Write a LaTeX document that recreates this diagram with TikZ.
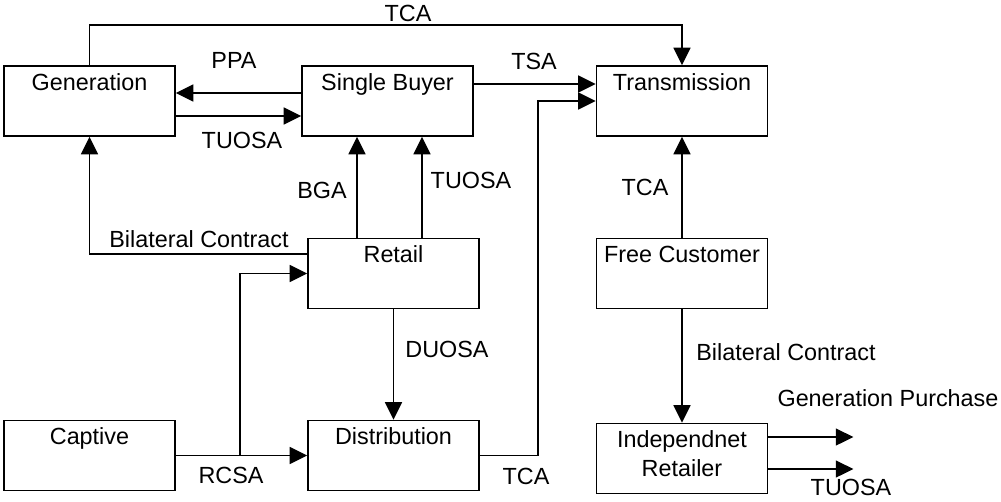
\documentclass[tikz,border=0pt]{standalone}
\usepackage{fontspec}
\setmainfont{Liberation Sans}
\usetikzlibrary{positioning,arrows.meta}
\tikzset{
block/.style={
draw,
line width=0.95pt,
minimum width=3.42cm,
minimum height=1.4cm,
inner sep=0pt
},
boxtitle/.style={
anchor=north,
inner sep=0pt,
yshift=-1.6mm,
align=center
},
tag/.style={
inner sep=0pt,
text height=1.38ex,
text depth=0pt
},
arrow/.style={
-{Triangle[length=3.5mm,width=3.4mm]},
line width=0.8pt
}
}

\begin{document}
\begin{tikzpicture}[x=0.2mm,y=-0.2mm,font=\fontsize{13.3}{16.5}\selectfont]

\useasboundingbox (0,0) rectangle (1001,501);

\node[block,label={[boxtitle]north:Generation}](gen) at (89.5,101){};

\node[block,label={[boxtitle]north:Single Buyer}](buyer) at (387.5,101){};

\node[block,label={[boxtitle]north:Transmission}](trans) at (682,101){};

\node[block,label={[boxtitle]north:Retail}](retail) at (393.5,273.5){};

\node[block,label={[boxtitle]north:Free Customer}](free) at (682,273.5){};

\node[block,label={[boxtitle]north:Captive}](captive) at (89.5,455.5){};

\node[block,label={[boxtitle]north:Distribution}](dist) at (393.5,455.5){};

\node[block,label={[boxtitle]north:{Independnet\\Retailer}}](indep) at (682,458.5){};

\draw[arrow](gen.north)--++(0,-40)-|(trans.north);

\draw[arrow]([yshift=1.6mm]buyer.west)--([yshift=1.6mm]gen.east);

\draw[arrow]([yshift=-3mm]gen.east)--([yshift=-3mm]buyer.west);

\draw[arrow]([yshift=3.4mm]buyer.east)--([yshift=3.4mm]trans.west);

\draw[arrow](dist.east)--++(58,0)|-(trans.west);

\draw[arrow](free.north)--(trans.south);

\draw[arrow]([xshift=-7.3mm]retail.north)--([xshift=-7.3mm]retail.north|-buyer.south);

\draw[arrow]([xshift=5.7mm]retail.north)--([xshift=5.7mm]retail.north|-buyer.south);

\draw[arrow]([yshift=3.9mm]retail.west)-|(gen.south);

\coordinate(split) at (240,455.5);

\draw[arrow](captive.east)--(dist.west);

\draw[arrow](split)|-(retail.west);

\draw[arrow](retail.south)--(dist.north);

\draw[arrow](free.south)--(indep.north);

\draw[arrow]([yshift=4.3mm]indep.east)--++(85,0)coordinate(gp);

\draw[arrow]([yshift=-2.1mm]indep.east)--++(85,0)coordinate(tu);

\node[tag](tcatop) at (408,15){TCA};

\node[tag](ppa) at (234,62){PPA};

\node[tag](tuosagen) at (242,142){TUOSA};

\node[tag](tsa) at (534,63){TSA};

\node[tag](bga) at (322,192){BGA};

\node[tag](tuosaret) at (471,182){TUOSA};

\node[tag](tcafree) at (645,189){TCA};

\node[tag](bcleft) at (199,241){Bilateral Contract};

\node[tag](duosa) at (447,351){DUOSA};

\node[tag](rcsa) at (231,477){RCSA};

\node[tag](tcadist) at (526,478){TCA};

\node[tag](bcright) at (786,354){Bilateral Contract};

\node[tag](genpur) at (888,400){Generation Purchase};

\node[tag](tuosaind) at (851,489){TUOSA};

\end{tikzpicture}
\end{document}
